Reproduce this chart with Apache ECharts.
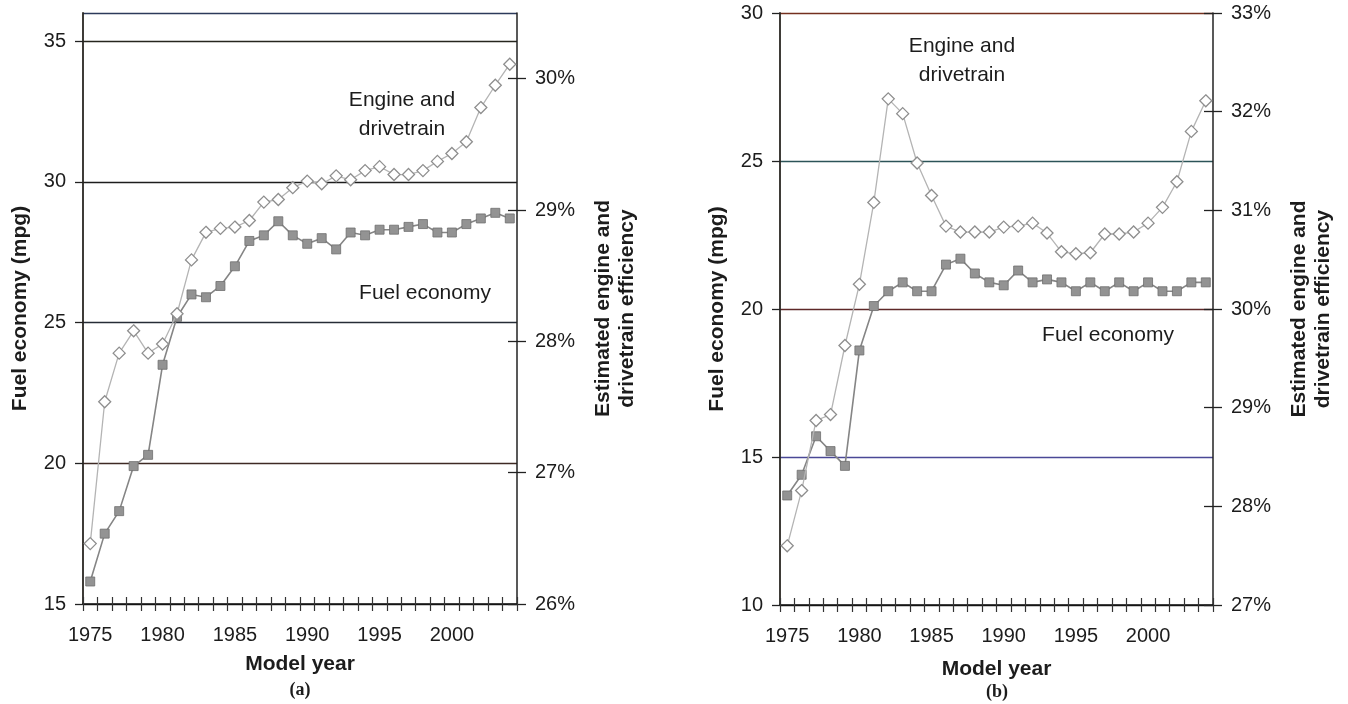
<!DOCTYPE html>
<html>
<head>
<meta charset="utf-8">
<title>Fuel economy and engine/drivetrain efficiency</title>
<script src="https://cdn.jsdelivr.net/npm/echarts@6/dist/echarts.min.js"></script>
<style>
  html, body { margin: 0; padding: 0; background: #ffffff; }
  #chart { width: 1348px; height: 704px; }
</style>
</head>
<body>
<div id="chart"></div>
<script>
// Model years shared by both panels
const years = ['1975','1976','1977','1978','1979','1980','1981','1982','1983','1984',
  '1985','1986','1987','1988','1989','1990','1991','1992','1993','1994',
  '1995','1996','1997','1998','1999','2000','2001','2002','2003','2004'];

// Panel (a): fuel economy (mpg) and estimated engine + drivetrain efficiency (%)
const fuelEconomyA = [15.8, 17.5, 18.3, 19.9, 20.3, 23.5, 25.2, 26.0, 25.9, 26.3,
  27.0, 27.9, 28.1, 28.6, 28.1, 27.8, 28.0, 27.6, 28.2, 28.1,
  28.3, 28.3, 28.4, 28.5, 28.2, 28.2, 28.5, 28.7, 28.9, 28.7];
const efficiencyA = [26.46, 27.54, 27.91, 28.08, 27.91, 27.98, 28.21, 28.62, 28.83, 28.86,
  28.87, 28.92, 29.06, 29.08, 29.17, 29.22, 29.20, 29.26, 29.23, 29.30,
  29.33, 29.27, 29.27, 29.30, 29.37, 29.43, 29.52, 29.78, 29.95, 30.11];

// Panel (b): fuel economy (mpg) and estimated engine + drivetrain efficiency (%)
const fuelEconomyB = [13.7, 14.4, 15.7, 15.2, 14.7, 18.6, 20.1, 20.6, 20.9, 20.6,
  20.6, 21.5, 21.7, 21.2, 20.9, 20.8, 21.3, 20.9, 21.0, 20.9,
  20.6, 20.9, 20.6, 20.9, 20.6, 20.9, 20.6, 20.6, 20.9, 20.9];
const efficiencyB = [27.60, 28.16, 28.87, 28.93, 29.63, 30.25, 31.08, 32.13, 31.98, 31.48,
  31.15, 30.84, 30.78, 30.78, 30.78, 30.83, 30.84, 30.87, 30.77, 30.58,
  30.56, 30.57, 30.76, 30.76, 30.78, 30.87, 31.03, 31.29, 31.80, 32.11];

// Tick values of the efficiency axes
const effTicksA = [26, 27, 28, 29, 30];
const effTicksB = [27, 28, 29, 30, 31, 32, 33];

const FONT = '"Liberation Sans", Arial, Helvetica, sans-serif';
const INK = '#1c1c1c';
const labelFont = { fontFamily: FONT, fontSize: 20, color: INK };
const nameFont = { fontFamily: FONT, fontSize: 21, fontWeight: 'bold', color: INK };

function yearAxis(gridIndex, overlay, nameGap) {
  if (overlay) {
    // second copy of the year axis carrying the inward half of each tick
    return {
      type: 'category', gridIndex, position: 'bottom', data: years, boundaryGap: true,
      axisLine: { show: false },
      axisLabel: { show: false },
      axisTick: { show: true, inside: true, interval: 0, length: 7,
        lineStyle: { color: '#333', width: 1.2 } },
      splitLine: { show: false }
    };
  }
  return {
    type: 'category', gridIndex, position: 'bottom', data: years, boundaryGap: true,
    name: 'Model year', nameLocation: 'middle', nameGap, nameTextStyle: nameFont,
    axisLine: { show: true, lineStyle: { color: '#111', width: 1.6 } },
    axisTick: { show: true, interval: 0, length: 7, lineStyle: { color: '#333', width: 1.2 } },
    axisLabel: Object.assign({ interval: 4, margin: 21 }, labelFont),
    splitLine: { show: false }
  };
}

function effAxis(gridIndex, min, max, ticks, overlay) {
  const base = {
    type: 'value', gridIndex, position: 'right', min, max, interval: 1,
    splitLine: { show: false }
  };
  if (overlay) {
    return Object.assign(base, {
      axisLine: { show: false },
      axisLabel: { show: false },
      axisTick: { show: true, inside: true, length: 9, customValues: ticks,
        lineStyle: { color: '#222', width: 1.3 } }
    });
  }
  return Object.assign(base, {
    name: 'Estimated engine and\ndrivetrain efficiency',
    nameLocation: 'middle', nameRotate: 90, nameGap: 74,
    nameTextStyle: Object.assign({ lineHeight: 24 }, nameFont),
    axisLine: { show: true, lineStyle: { color: '#222', width: 1.5 } },
    axisTick: { show: true, length: 9, customValues: ticks,
      lineStyle: { color: '#222', width: 1.3 } },
    axisLabel: Object.assign({ margin: 18, customValues: ticks,
      formatter: v => v + '%' }, labelFont)
  });
}

function mpgAxis(gridIndex, min, max, gridColors) {
  return {
    type: 'value', gridIndex, position: 'left', min, max, interval: 5,
    name: 'Fuel economy (mpg)', nameLocation: 'middle', nameRotate: 90, nameGap: 52,
    nameTextStyle: nameFont,
    axisLine: { show: true, lineStyle: { color: '#2a2622', width: 1.8 } },
    axisTick: { show: true, length: 8, lineStyle: { color: '#222', width: 1.3 } },
    axisLabel: Object.assign({ margin: 17, showMaxLabel: max % 5 === 0 }, labelFont),
    splitLine: { show: true, lineStyle: { color: gridColors, width: 1.3 } }
  };
}

const fuelStyle = {
  type: 'line', symbol: 'rect', symbolSize: 9, showAllSymbol: true,
  lineStyle: { color: '#858585', width: 1.6 },
  itemStyle: { color: '#939393', borderColor: '#6f6f6f', borderWidth: 0.8 },
  z: 3
};
const effStyle = {
  type: 'line', symbol: 'diamond', symbolSize: [12, 12], showAllSymbol: true,
  lineStyle: { color: '#b4b4b4', width: 1.3 },
  itemStyle: { color: '#ffffff', borderColor: '#8e8e8e', borderWidth: 1.3 },
  z: 4
};

function note(text, x, y, extra) {
  return {
    type: 'text', x, y, z: 10,
    style: Object.assign({ text, align: 'center', verticalAlign: 'middle',
      font: '21px ' + FONT, fill: INK, lineHeight: 29 }, extra || {})
  };
}

const chart = echarts.init(document.getElementById('chart'), null, { renderer: 'canvas' });
chart.setOption({
  backgroundColor: '#ffffff',
  animation: false,
  grid: [
    { left: 83, top: 13, width: 434, height: 591 },
    { left: 780, top: 13, width: 433, height: 592 }
  ],
  xAxis: [
    yearAxis(0, false, 50), yearAxis(0, true),
    yearAxis(1, false, 54), yearAxis(1, true)
  ],
  yAxis: [
    mpgAxis(0, 15, 36, ['#222', '#3e2a24', '#262c36', '#1d1d1d', '#26261e', '#2c3a5a']),
    effAxis(0, 26, 30.5, effTicksA, false),
    effAxis(0, 26, 30.5, effTicksA, true),
    mpgAxis(1, 10, 30, ['#222', '#4a4896', '#5e2828', '#2c5458', '#74301f']),
    effAxis(1, 27, 33, effTicksB, false),
    effAxis(1, 27, 33, effTicksB, true)
  ],
  series: [
    Object.assign({ name: 'Fuel economy', xAxisIndex: 0, yAxisIndex: 0, data: fuelEconomyA }, fuelStyle),
    Object.assign({ name: 'Engine and drivetrain', xAxisIndex: 0, yAxisIndex: 1, data: efficiencyA }, effStyle),
    Object.assign({ name: 'Fuel economy', xAxisIndex: 2, yAxisIndex: 3, data: fuelEconomyB }, fuelStyle),
    Object.assign({ name: 'Engine and drivetrain', xAxisIndex: 2, yAxisIndex: 4, data: efficiencyB }, effStyle)
  ],
  graphic: [
    note('Engine and\ndrivetrain', 402, 115),
    note('Fuel economy', 425, 293),
    note('Engine and\ndrivetrain', 962, 61),
    note('Fuel economy', 1108, 335),
    note('(a)', 300, 690, { font: 'bold 18px "Liberation Serif", "Times New Roman", serif' }),
    note('(b)', 997, 692, { font: 'bold 18px "Liberation Serif", "Times New Roman", serif' })
  ]
});
</script>
</body>
</html>
